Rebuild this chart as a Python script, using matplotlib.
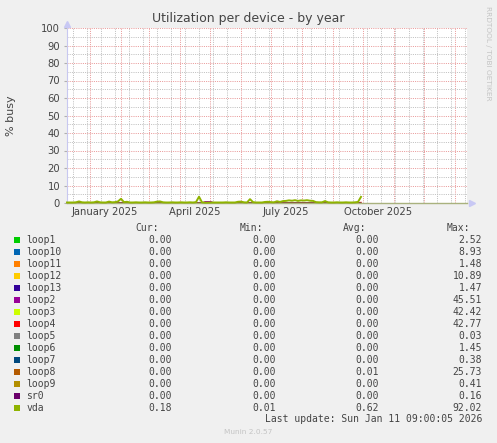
import numpy as np
import matplotlib
matplotlib.use('Agg')
import matplotlib.pyplot as plt
import matplotlib.dates as mdates
from matplotlib.patches import Rectangle

# ---------------- data ----------------
title = "Utilization per device - by year"
ylabel = "% busy"
x_start = np.datetime64('2024-12-09')
x_end = np.datetime64('2026-01-13')
sample_step_days = 3

# vda average utilisation, one sample every 3 days from 2024-12-09
vda_values = [0.3, 0.3, 0.3, 0.4, 0.9, 0.4, 0.3, 0.4, 0.3, 0.4,
              0.9, 0.4, 0.3, 0.3, 0.8, 0.4, 0.5, 0.9, 2.4, 0.5,
              0.7, 0.3, 0.3, 0.4, 0.3, 0.3, 0.4, 0.3, 0.3, 0.4,
              0.8, 0.9, 0.4, 0.3, 0.3, 0.4, 0.3, 0.3, 0.4, 0.3,
              0.3, 0.4, 0.3, 0.5, 3.6, 0.4, 0.2, 0.2, 0.3, 0.3,
              0.3, 0.3, 0.3, 0.4, 0.3, 0.3, 0.3, 0.7, 0.8, 0.4,
              0.3, 2.2, 0.5, 0.3, 0.3, 0.3, 0.6, 0.7, 0.5, 0.4,
              1.0, 0.6, 1.1, 1.2, 1.5, 1.3, 1.6, 1.2, 1.5, 1.4,
              1.6, 1.3, 1.2, 0.5, 0.4, 0.4, 1.1, 0.4, 0.3, 0.3,
              0.4, 0.3, 0.3, 0.4, 0.3, 0.3, 0.4, 0.6, 3.5]
# loop2 shows a short bump in early April, loop4 a tiny blip at the end
loop2_values = [0.0] * 45 + [0.0, 0.8, 0.8, 0.8, 0.0] + [0.0] * 49
loop4_values = [0.0] * 98 + [0.4]
zero_values = [0.0] * 99

names = ["loop1", "loop10", "loop11", "loop12", "loop13", "loop2", "loop3",
         "loop4", "loop5", "loop6", "loop7", "loop8", "loop9", "sr0", "vda"]
colors = ["#00CC00", "#0066B3", "#FF8000", "#FFCC00", "#330099", "#990099",
          "#CCFF00", "#FF0000", "#808080", "#008F00", "#00487D", "#B35A00",
          "#B38F00", "#6B006B", "#8FB300"]
cur = ["0.00"] * 14 + ["0.18"]
mins = ["0.00"] * 14 + ["0.01"]
avg = ["0.00"] * 11 + ["0.01", "0.00", "0.00", "0.62"]
maxs = ["2.52", "8.93", "1.48", "10.89", "1.47", "45.51", "42.42", "42.77",
        "0.03", "1.45", "0.38", "25.73", "0.41", "0.16", "92.02"]

x_labels = ["January 2025", "April 2025", "July 2025", "October 2025"]
x_label_dates = ["2025-01-16", "2025-04-16", "2025-07-16", "2025-10-16"]
y_ticks = list(range(0, 101, 10))
last_update = "Last update: Sun Jan 11 09:00:05 2026"
munin_ver = "Munin 2.0.57"
rrd_credit = "RRDTOOL / TOBI OETIKER"

# ---------------- figure ----------------
W, H = 497, 443
fig = plt.figure(figsize=(W / 100, H / 100), dpi=100, facecolor='#f0f0f0')

def fx(x):
    return x / W

def fy(y):
    return 1 - y / H

AX_L, AX_R, AX_T, AX_B = 67, 467, 28, 203
ax = fig.add_axes([fx(AX_L), fy(AX_B), (AX_R - AX_L) / W, (AX_B - AX_T) / H])
ax.set_facecolor('white')

dates = x_start + np.arange(len(vda_values)) * np.timedelta64(sample_step_days, 'D')
dnum = mdates.date2num(dates.astype('datetime64[s]').astype(object))

series = {}
for n in names:
    series[n] = zero_values
series["loop2"] = loop2_values
series["loop4"] = loop4_values
series["vda"] = vda_values

for n, c in zip(names, colors):
    if n == 'vda':
        ax.plot(dnum, series[n], color=c, linewidth=1.4, zorder=5, clip_on=False)
    elif n in ('loop2', 'loop4'):
        ax.plot(dnum, series[n], color=c, linewidth=0.8, zorder=3)
    else:
        ax.plot(dnum, series[n], color=c, linewidth=0.3, zorder=3)

x0 = mdates.date2num(x_start.astype('datetime64[s]').astype(object))
x1 = mdates.date2num(x_end.astype('datetime64[s]').astype(object))
ax.set_xlim(x0, x1)
ax.set_ylim(0, 100)

# grid
ax.xaxis.set_major_locator(mdates.MonthLocator())
sundays = np.arange(np.datetime64('2024-12-15'), x_end, np.timedelta64(14, 'D'))
ax.set_xticks(mdates.date2num(sundays.astype('datetime64[s]').astype(object)), minor=True)
ax.set_yticks(y_ticks)
ax.set_yticks(list(range(5, 100, 10)), minor=True)
ax.grid(which='minor', color='#c0c0c0', linestyle=(0, (1, 1.2)), linewidth=0.72, zorder=1)
ax.grid(which='major', color='#e99a9a', linestyle=(0, (1, 1.2)), linewidth=0.72, zorder=2)
ax.set_axisbelow(True)

ax.tick_params(axis='x', which='both', length=0, labelbottom=False)
ax.tick_params(axis='y', which='major', length=2, color='#b0b0b0', labelsize=7.2,
               labelcolor='#444444', pad=3)
ax.tick_params(axis='y', which='minor', length=0)

for s in ('top', 'right'):
    ax.spines[s].set_visible(False)
ax.spines['left'].set_color('#c8c8f0')
ax.spines['bottom'].set_color('#a9b27e')
ax.spines['bottom'].set_zorder(4.5)
ax.spines['left'].set_linewidth(0.8)
ax.spines['bottom'].set_linewidth(1.0)

# arrows
ax.plot([0], [1.025], marker='^', color='#c8c8f4', markersize=4, transform=ax.transAxes,
        clip_on=False)
ax.plot([1.012], [0], marker='>', color='#c8c8f4', markersize=4, transform=ax.transAxes,
        clip_on=False)

# x labels
for lab, d in zip(x_labels, x_label_dates):
    xd = mdates.date2num(np.datetime64(d).astype('datetime64[s]').astype(object))
    ax.text(xd, -0.05, lab, transform=ax.get_xaxis_transform(), ha='center', va='center',
            fontsize=7.2, color='#444444')

# title / labels
fig.text(fx(248), fy(18.5), title, ha='center', va='center', fontsize=9.0, color='#444444')
fig.text(fx(11), fy(116), ylabel, ha='center', va='center', rotation=90, fontsize=8,
         color='#444444')
fig.text(fx(488), fy(53), rrd_credit, ha='center', va='center', rotation=270,
         fontsize=5.3, color='#c4c4c4')

# legend
mono = 'DejaVu Sans Mono'
fs = 7.0
tc = '#444444'
hy = 228
for hx, h in zip([159, 263, 366, 470], ["Cur:", "Min:", "Avg:", "Max:"]):
    fig.text(fx(hx), fy(hy), h, ha='right', va='center', family=mono, fontsize=fs, color=tc)

row0 = 239.7
dy = 12.0
for i, (n, c) in enumerate(zip(names, colors)):
    y = row0 + i * dy
    fig.patches.append(Rectangle((fx(14), fy(y + 3)), 6 / W, 6 / H, transform=fig.transFigure,
                                 facecolor=c, edgecolor='none'))
    fig.text(fx(26.5), fy(y), n, ha='left', va='center', family=mono, fontsize=fs, color=tc)
    for vx, v in zip([172, 276, 379, 482], [cur[i], mins[i], avg[i], maxs[i]]):
        fig.text(fx(vx), fy(y), v, ha='right', va='center', family=mono, fontsize=fs, color=tc)

fig.text(fx(482), fy(419.3), last_update, ha='right', va='center', family=mono, fontsize=fs,
         color=tc)
fig.text(fx(248), fy(432.3), munin_ver, ha='center', va='center', fontsize=5.3, color='#c4c4c4')

fig.savefig('out.png', dpi=100, facecolor=fig.get_facecolor())
